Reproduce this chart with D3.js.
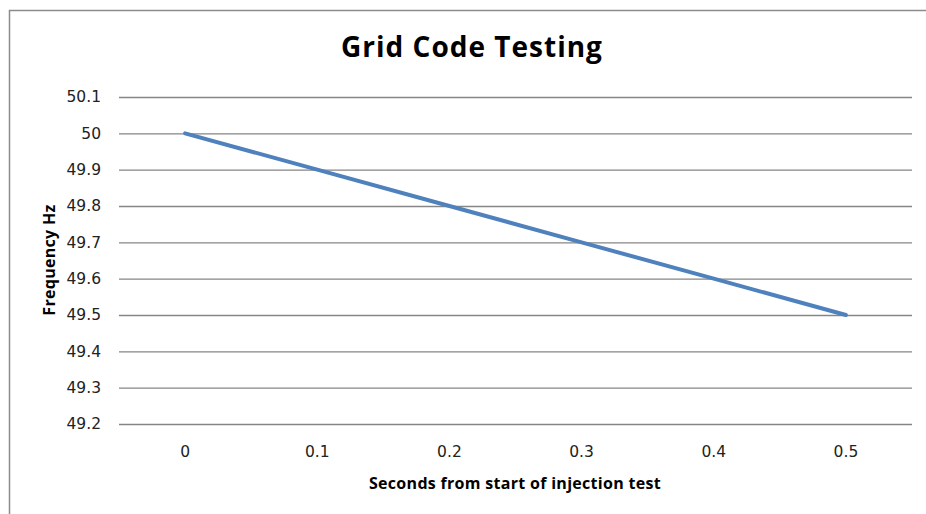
<!DOCTYPE html>
<html>
<head>
<meta charset="utf-8">
<script src="https://cdnjs.cloudflare.com/ajax/libs/d3/7.8.5/d3.min.js"></script>
<style>
  body { margin: 0; background: #fff; }
  svg { display: block; }
</style>
</head>
<body>
<div class="plot"></div>
<script>
// data
var seconds = ["0", "0.1", "0.2", "0.3", "0.4", "0.5"];
var frequency = [50, 49.9, 49.8, 49.7, 49.6, 49.5];
var yTicks = [49.2, 49.3, 49.4, 49.5, 49.6, 49.7, 49.8, 49.9, 50, 50.1];

var width = 926, height = 514;
var plotLeft = 119, plotRight = 912, plotTop = 97, plotBottom = 424;

var svg = d3.select(".plot").append("svg")
  .attr("width", width)
  .attr("height", height);

// chart frame (right and bottom edges are cut off in the picture)
svg.append("path")
  .attr("d", "M9.5," + height + "V10.5H" + width)
  .attr("fill", "none")
  .attr("stroke", "#8c8c8c")
  .attr("stroke-width", 1.5);

var x = d3.scaleBand()
  .domain(seconds)
  .range([plotLeft, plotRight]);

var y = d3.scaleLinear()
  .domain([49.2, 50.1])
  .range([plotBottom, plotTop]);

// gridlines + y labels
var yAxis = svg.append("g")
  .attr("transform", "translate(" + plotLeft + ",0)")
  .call(d3.axisLeft(y)
    .tickValues(yTicks)
    .tickSize(-(plotRight - plotLeft))
    .tickPadding(18)
    .tickFormat(d3.format("~g")));
yAxis.select(".domain").remove();
yAxis.selectAll("line")
  .attr("stroke", "#868686")
  .attr("stroke-width", 1.3);
yAxis.selectAll("text")
  .style("font-family", "'DejaVu Sans', Verdana, sans-serif")
  .style("font-size", "15.5px")
  .attr("fill", "#222");

// x labels
var xAxis = svg.append("g")
  .attr("transform", "translate(0," + plotBottom + ")")
  .call(d3.axisBottom(x).tickSize(0).tickPadding(22));
xAxis.select(".domain").remove();
xAxis.selectAll("text")
  .style("font-family", "'DejaVu Sans', Verdana, sans-serif")
  .style("font-size", "15.5px")
  .attr("fill", "#222");

// series line
var line = d3.line()
  .x(function(d, i) { return x(seconds[i]) + x.bandwidth() / 2; })
  .y(function(d) { return y(d); });

svg.append("path")
  .datum(frequency)
  .attr("d", line)
  .attr("fill", "none")
  .attr("stroke", "#4f81bd")
  .attr("stroke-width", 4)
  .attr("stroke-linecap", "round");

// title
svg.append("text")
  .attr("x", 472)
  .attr("y", 57)
  .style("text-anchor", "middle")
  .style("font-family", "'Open Sans', sans-serif")
  .style("font-weight", "bold")
  .style("font-size", "28px")
  .style("letter-spacing", "1px")
  .text("Grid Code Testing");

// axis titles
svg.append("text")
  .attr("x", 515)
  .attr("y", 489)
  .style("text-anchor", "middle")
  .style("font-family", "'Open Sans', sans-serif")
  .style("font-weight", "bold")
  .style("font-size", "16px")
  .style("letter-spacing", "0.3px")
  .text("Seconds from start of injection test");

svg.append("text")
  .attr("transform", "translate(55,260) rotate(-90)")
  .style("text-anchor", "middle")
  .style("font-family", "'Open Sans', sans-serif")
  .style("font-weight", "bold")
  .style("font-size", "16px")
  .style("letter-spacing", "0.3px")
  .text("Frequency Hz");
</script>
</body>
</html>
